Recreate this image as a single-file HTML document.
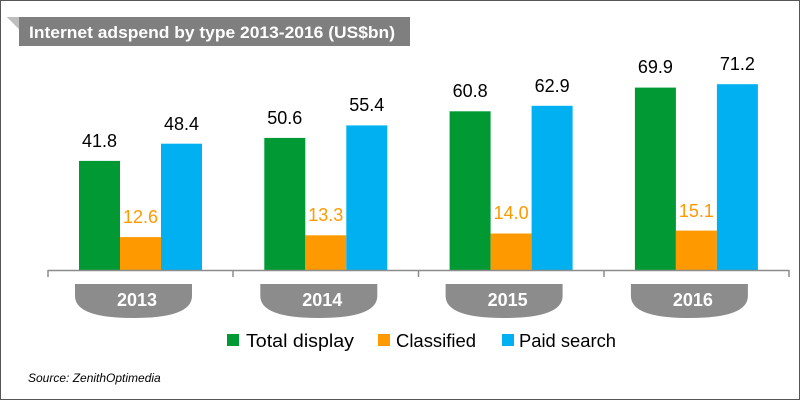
<!DOCTYPE html>
<html><head><meta charset="utf-8"><style>
html,body{margin:0;padding:0;background:#fff}
svg{display:block}
</style></head><body>
<svg width="800" height="400" xmlns="http://www.w3.org/2000/svg" font-family="Liberation Sans, sans-serif">
<rect x="0.5" y="0.5" width="799" height="399" fill="#fff" stroke="#555" stroke-width="1"/>
<polygon points="7,17 410,17 410,46 19,46 19,29" fill="#7f7f7f"/>
<polygon points="7,17 19,17 19,29" fill="#bdbdbd"/>
<text x="29" y="38" fill="#fff" font-size="16.5" font-weight="bold" textLength="366" lengthAdjust="spacingAndGlyphs">Internet adspend by type 2013-2016 (US$bn)</text>

<g>
<rect x="79" y="160.9" width="41" height="109.1" fill="#009933"/>
<rect x="120" y="237.1" width="41" height="32.9" fill="#ff9900"/>
<rect x="161" y="143.7" width="41" height="126.3" fill="#00b0f0"/>
<rect x="264.3" y="137.9" width="41" height="132.1" fill="#009933"/>
<rect x="305.3" y="235.3" width="41" height="34.7" fill="#ff9900"/>
<rect x="346.3" y="125.4" width="41" height="144.6" fill="#00b0f0"/>
<rect x="449.6" y="111.3" width="41" height="158.7" fill="#009933"/>
<rect x="490.6" y="233.5" width="41" height="36.5" fill="#ff9900"/>
<rect x="531.6" y="105.8" width="41" height="164.2" fill="#00b0f0"/>
<rect x="634.9" y="87.6" width="41" height="182.4" fill="#009933"/>
<rect x="675.9" y="230.6" width="41" height="39.4" fill="#ff9900"/>
<rect x="716.9" y="84.2" width="41" height="185.8" fill="#00b0f0"/>
</g>
<g font-size="18" text-anchor="middle">
<text x="99.5" y="147" fill="#000">41.8</text>
<text x="140.5" y="223" fill="#ff9900">12.6</text>
<text x="181.5" y="130" fill="#000">48.4</text>
<text x="284.8" y="124" fill="#000">50.6</text>
<text x="325.8" y="221" fill="#ff9900">13.3</text>
<text x="366.8" y="111" fill="#000">55.4</text>
<text x="470.1" y="97" fill="#000">60.8</text>
<text x="511.1" y="219" fill="#ff9900">14.0</text>
<text x="552.1" y="92" fill="#000">62.9</text>
<text x="655.4" y="73" fill="#000">69.9</text>
<text x="696.4" y="217" fill="#ff9900">15.1</text>
<text x="737.4" y="70" fill="#000">71.2</text>
</g>

<line x1="48" y1="270.5" x2="789" y2="270.5" stroke="#8c8c8c" stroke-width="1.5"/>
<g stroke="#8c8c8c" stroke-width="1.5">
<line x1="48" y1="270" x2="48" y2="277"/><line x1="233" y1="270" x2="233" y2="277"/>
<line x1="418.5" y1="270" x2="418.5" y2="277"/><line x1="604" y1="270" x2="604" y2="277"/>
<line x1="789" y1="270" x2="789" y2="277"/>
</g>

<g fill="#8c8c8c">
<path d="M75,284 H192 V296 Q192,318 133.5,318 Q75,318 75,296 Z"/>
<path d="M260.3,284 H377.3 V296 Q377.3,318 318.8,318 Q260.3,318 260.3,296 Z"/>
<path d="M445.6,284 H562.6 V296 Q562.6,318 504.1,318 Q445.6,318 445.6,296 Z"/>
<path d="M630.9,284 H747.9 V296 Q747.9,318 689.4,318 Q630.9,318 630.9,296 Z"/>
</g>
<g font-size="18" font-weight="bold" fill="#fff" text-anchor="middle">
<text x="137" y="306">2013</text>
<text x="322.3" y="306">2014</text>
<text x="507.6" y="306">2015</text>
<text x="692.9" y="306">2016</text>
</g>

<rect x="227" y="334" width="12" height="12" fill="#009933"/>
<text x="246" y="347" font-size="18.5" textLength="108" lengthAdjust="spacingAndGlyphs" fill="#000">Total display</text>
<rect x="378" y="334" width="12" height="12" fill="#ff9900"/>
<text x="396" y="347" font-size="18.5" textLength="80" lengthAdjust="spacingAndGlyphs" fill="#000">Classified</text>
<rect x="502" y="334" width="12" height="12" fill="#00b0f0"/>
<text x="519" y="347" font-size="18.5" textLength="97" lengthAdjust="spacingAndGlyphs" fill="#000">Paid search</text>
<text x="28" y="382" font-size="12" font-style="italic" fill="#000">Source: ZenithOptimedia</text>
</svg>
</body></html>
